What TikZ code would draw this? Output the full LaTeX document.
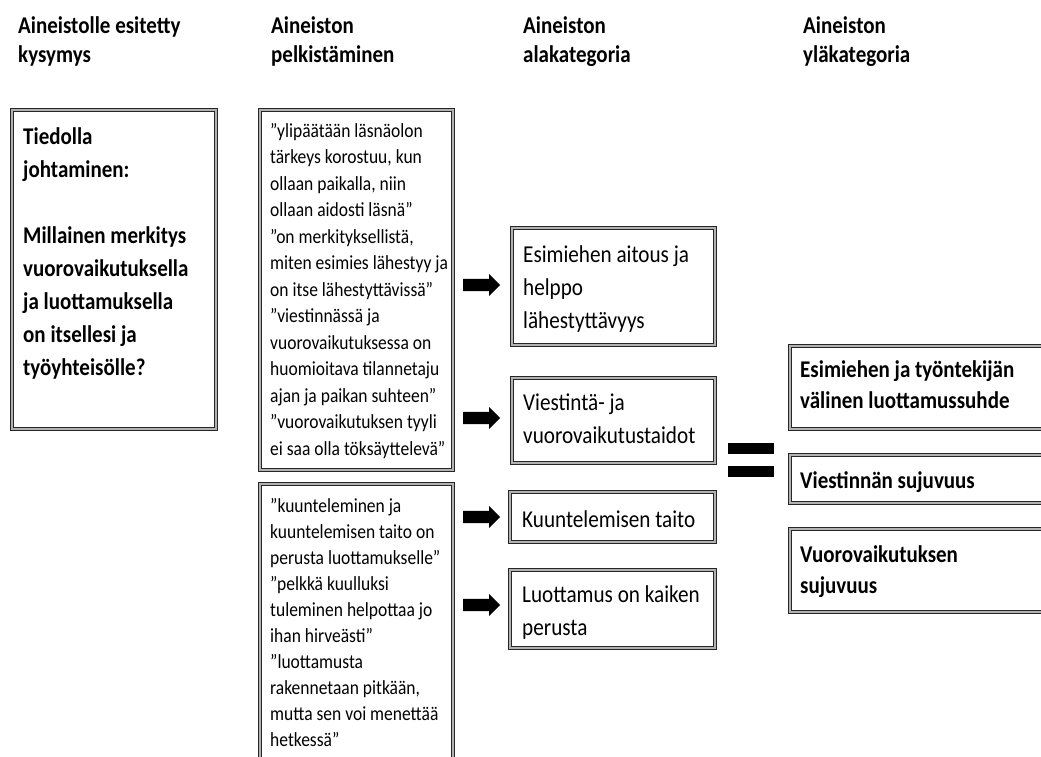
\documentclass[tikz,border=0pt]{standalone}
\usepackage{fontspec}
\setmainfont{Carlito}[FakeStretch=0.875]
\usetikzlibrary{shapes.arrows}
\begin{document}
\begin{tikzpicture}[x=1pt,y=-1pt,
  frame/.style={draw=black!85, double=gray!60, double distance=1.5pt, line width=0.9pt, fill=white, inner sep=0pt, anchor=north west},
  txt/.style={anchor=base west, inner sep=0pt, align=flush left, text width=#1},
  headfont/.style={font=\fontsize{24}{29}\selectfont\bfseries},
  qfont/.style={font=\fontsize{20}{26.5}\selectfont},
  qfontb/.style={font=\fontsize{20}{26}\selectfont},
  lfont/.style={font=\fontsize{24}{33}\selectfont\bfseries},
  cfont/.style={font=\fontsize{24.2}{33}\selectfont},
  rfont/.style={font=\fontsize{24}{31}\selectfont\bfseries},
  blockarrow/.style={single arrow, fill=black, draw=none, inner sep=6pt, minimum height=37pt, minimum width=22pt, single arrow head extend=5pt, anchor=west},
  bar/.style={fill=black, draw=none, inner sep=0pt, minimum width=46pt, minimum height=11pt, anchor=north west}
]
\useasboundingbox (0,0) rectangle (1041,756);
\clip (0,0) rectangle (1041,756);
% headers
\node[txt=260pt, headfont] (h1) at (18,33) {Aineistolle esitetty\\kysymys};
\node[txt=260pt, headfont] (h2) at (271,33) {Aineiston\\pelkistäminen};
\node[txt=260pt, headfont] (h3) at (523,33) {Aineiston\\alakategoria};
\node[txt=230pt, headfont] (h4) at (803,33) {Aineiston\\yläkategoria};
% frames
\node[frame, minimum width=204pt, minimum height=319pt] (q) at (11.5,109.5) {};
\node[frame, minimum width=193pt, minimum height=360pt] (p1) at (259.5,109.5) {};
\node[frame, minimum width=193pt, minimum height=300pt] (p2) at (259.5,483.5) {};
\node[frame, minimum width=203pt, minimum height=117pt] (c1) at (511.5,227.5) {};
\node[frame, minimum width=203pt, minimum height=85pt] (c2) at (511.5,377.5) {};
\node[frame, minimum width=205pt, minimum height=50pt] (c3) at (509.5,491.5) {};
\node[frame, minimum width=205pt, minimum height=78pt] (c4) at (509.5,569.5) {};
\node[frame, minimum width=280pt, minimum height=83pt] (y1) at (789.5,345.5) {};
\node[frame, minimum width=280pt, minimum height=48pt] (y2) at (789.5,454.5) {};
\node[frame, minimum width=280pt, minimum height=83pt] (y3) at (789.5,528.5) {};
% texts
\node[txt=300pt, lfont] (qt) at (23,144) {Tiedolla\\johtaminen:\\[33pt]Millainen merkitys\\vuorovaikutuksella\\ja luottamuksella\\on itsellesi ja\\työyhteisölle?};
\node[txt=300pt, qfont] (p1t) at (270,137) {”ylipäätään läsnäolon\\tärkeys korostuu, kun\\ollaan paikalla, niin\\ollaan aidosti läsnä”\\”on merkityksellistä,\\miten esimies lähestyy ja\\on itse lähestyttävissä”\\”viestinnässä ja\\vuorovaikutuksessa on\\huomioitava tilannetaju\\ajan ja paikan suhteen”\\”vuorovaikutuksen tyyli\\ei saa olla töksäyttelevä”};
\node[txt=300pt, qfontb] (p2t) at (270,512) {”kuunteleminen ja\\kuuntelemisen taito on\\perusta luottamukselle”\\”pelkkä kuulluksi\\tuleminen helpottaa jo\\ihan hirveästi”\\”luottamusta\\rakennetaan pitkään,\\mutta sen voi menettää\\hetkessä”};
\node[txt=300pt, cfont] (c1t) at (523,262) {Esimiehen aitous ja\\helppo\\lähestyttävyys};
\node[txt=300pt, cfont] (c2t) at (523,410) {Viestintä- ja\\vuorovaikutustaidot};
\node[txt=300pt, cfont] (c3t) at (522,527) {Kuuntelemisen taito};
\node[txt=300pt, cfont] (c4t) at (522,602) {Luottamus on kaiken\\perusta};
\node[txt=300pt, rfont] (y1t) at (800,377) {Esimiehen ja työntekijän\\välinen luottamussuhde};
\node[txt=300pt, rfont] (y2t) at (800,488) {Viestinnän sujuvuus};
\node[txt=300pt, rfont] (y3t) at (800,562) {Vuorovaikutuksen\\sujuvuus};
% block arrows
\node[blockarrow] (a1) at (463,285) {};
\node[blockarrow] (a2) at (463,418) {};
\node[blockarrow] (a3) at (463,517) {};
\node[blockarrow] (a4) at (463,605) {};
% equals sign
\node[bar] (e1) at (728,443) {};
\node[bar] (e2) at (728,466) {};
\end{tikzpicture}
\end{document}
